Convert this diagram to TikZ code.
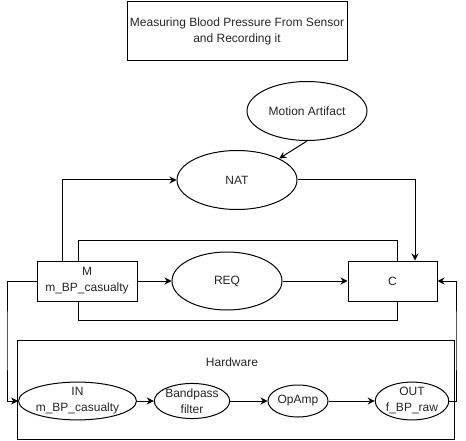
\documentclass[tikz,border=0pt]{standalone}
\usepackage{fontspec}
\setmainfont{Liberation Sans}
\usetikzlibrary{shapes.geometric,arrows.meta}
\begin{document}
\begin{tikzpicture}[x=1pt,y=-1pt,
  every node/.style={font=\fontsize{12}{16}\selectfont, text=black!85, align=center, inner sep=0pt},
  box/.style={draw, line width=1pt, rectangle},
  ell/.style={draw, line width=1pt, ellipse},
  conn/.style={line width=1pt},
  arr/.style={line width=1pt, -{Stealth[length=7pt,width=7pt]}}]
\useasboundingbox (0,0) rectangle (466,441);
\node[box, minimum width=220, minimum height=59] (title) at (237,31) {Measuring Blood Pressure From Sensor\\and Recording it};
\node[ell, minimum width=120, minimum height=59] (MA) at (307,111) {Motion Artifact};
\node[ell, minimum width=120, minimum height=59] (NAT) at (237,180) {NAT};
\node[box, minimum width=100, minimum height=40] (M) at (87,281) {M\\m\_BP\_casualty};
\node[ell, minimum width=110, minimum height=58] (REQ) at (227,281) {REQ};
\node[box, minimum width=89, minimum height=40] (C) at (392.5,281) {C};
\node[box, minimum width=437, minimum height=99] (HW) at (235.5,389.5) {};
\node (hwlabel) at (232,362) {Hardware};
\node[ell, minimum width=101, minimum height=32] (IN) at (77.5,401) {IN\\m\_BP\_casualty};
\node[ell, minimum width=70, minimum height=32] (BP) at (192,401) {Bandpass\\filter};
\node[ell, minimum width=60, minimum height=32] (OP) at (298,401) {OpAmp};
\node[ell, minimum width=70, minimum height=32] (OUT) at (412,401) {OUT\\f\_BP\_raw};
\coordinate (mup) at (62,240);
\coordinate (cin) at (415,240);
\coordinate (tl) at (78,240);
\coordinate (tr) at (397,240);
\coordinate (bl) at (78,320);
\coordinate (br) at (397,320);
\coordinate (lx) at (7,340);
\coordinate (rx) at (456,340);
\draw[arr] (MA.south) -- (NAT.27);
\draw[arr] (M.north -| mup) |- (NAT.west);
\draw[arr] (NAT.east) -| (C.north -| cin);
\draw[arr] (M.east) -- (REQ.west);
\draw[arr] (REQ.east) -- (C.west);
\draw[conn] (M.north -| tl) -- (tl) -- (tr) -- (C.north -| tr);
\draw[conn] (M.south -| bl) -- (bl) -- (br) -- (C.south -| br);
\draw[arr] (M.west) -| (lx) |- (IN.west);
\draw[arr] (OUT.east) -| (rx) |- (C.east);
\draw[arr] (IN.east) -- (BP.west);
\draw[arr] (BP.east) -- (OP.west);
\draw[arr] (OP.east) -- (OUT.west);
\end{tikzpicture}
\end{document}
